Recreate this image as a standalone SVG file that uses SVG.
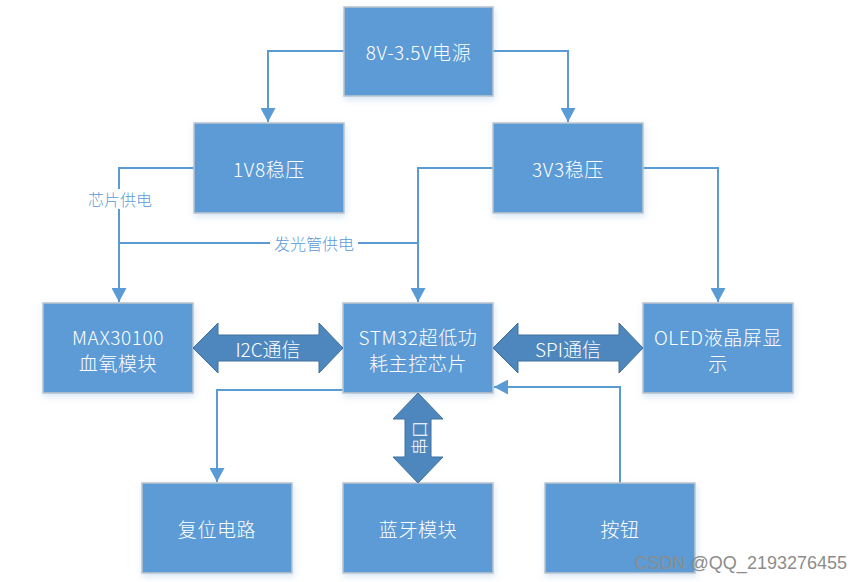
<svg xmlns="http://www.w3.org/2000/svg" width="863" height="582" viewBox="0 0 863 582">
<defs>
<style>
.box{fill:#5B9BD5;stroke:#BCC4CC;stroke-width:1.5;filter:url(#sh)}
.t{font-family:"Microsoft YaHei","Noto Sans CJK SC",sans-serif;font-size:19px;font-weight:300;letter-spacing:0.6px;fill:#FFFFFF;text-anchor:middle;dominant-baseline:central}
.ln{fill:none;stroke:#5B9BD5;stroke-width:2}
.lbl{font-family:"Microsoft YaHei","Noto Sans CJK SC",sans-serif;font-size:16px;font-weight:300;fill:#5B9BD5;text-anchor:middle;dominant-baseline:central}
.dbl{fill:#4E87BE;stroke:#41719C;stroke-width:1}
.dt{font-family:"Microsoft YaHei","Noto Sans CJK SC",sans-serif;font-size:19px;font-weight:300;fill:#FFFFFF;text-anchor:middle;dominant-baseline:central}
</style>
<filter id="sh" x="-10%" y="-10%" width="125%" height="130%">
<feDropShadow dx="1" dy="3" stdDeviation="3" flood-color="#5B9BD5" flood-opacity="0.25"/>
</filter>
<marker id="ah" markerUnits="userSpaceOnUse" markerWidth="15" markerHeight="15" refX="14" refY="7.5" orient="auto">
<path d="M0,0 L14,7.5 L0,15 Z" fill="#5B9BD5"/>
</marker>
</defs>
<rect width="863" height="582" fill="#FFFFFF"/>
<g id="connectors">
<path class="ln" d="M344,51 H268 V122" marker-end="url(#ah)"/>
<path class="ln" d="M493,51 H568 V122" marker-end="url(#ah)"/>
<path class="ln" d="M194,168 H119 V302" marker-end="url(#ah)"/>
<path class="ln" d="M119,243 H418"/>
<path class="ln" d="M493,168 H418 V302" marker-end="url(#ah)"/>
<path class="ln" d="M643,168 H718 V302" marker-end="url(#ah)"/>
<path class="ln" d="M343,390 H217 V482" marker-end="url(#ah)"/>
<path class="ln" d="M620,483 V387 H494" marker-end="url(#ah)"/>
<rect x="85" y="189" width="70" height="20" fill="#FFFFFF"/>
<text class="lbl" x="120" y="199">芯片供电</text>
<rect x="270" y="233" width="88" height="20" fill="#FFFFFF"/>
<text class="lbl" x="314" y="243">发光管供电</text>
</g>
<g id="power">
<rect class="box" x="344" y="7" width="149" height="89"/>
<text class="t" x="418.5" y="51">8V-3.5V电源</text>
</g>
<g id="reg1v8">
<rect class="box" x="194" y="123" width="150" height="90"/>
<text class="t" x="269" y="168">1V8稳压</text>
</g>
<g id="reg3v3">
<rect class="box" x="493" y="123" width="150" height="90"/>
<text class="t" x="568" y="168">3V3稳压</text>
</g>
<g id="max30100">
<rect class="box" x="43" y="303" width="150" height="90"/>
<text class="t" x="118" y="336">MAX30100</text>
<text class="t" x="118" y="362">血氧模块</text>
</g>
<g id="stm32">
<rect class="box" x="343" y="303" width="150" height="90"/>
<text class="t" x="418" y="336">STM32超低功</text>
<text class="t" x="418" y="362">耗主控芯片</text>
</g>
<g id="oled">
<rect class="box" x="643" y="303" width="150" height="90"/>
<text class="t" x="718" y="336">OLED液晶屏显</text>
<text class="t" x="718" y="362">示</text>
</g>
<g id="reset">
<rect class="box" x="142" y="483" width="150" height="90"/>
<text class="t" x="217" y="528">复位电路</text>
</g>
<g id="bluetooth">
<rect class="box" x="343" y="483" width="150" height="90"/>
<text class="t" x="418" y="528">蓝牙模块</text>
</g>
<g id="button">
<rect class="box" x="545" y="483" width="150" height="90"/>
<text class="t" x="620" y="528">按钮</text>
</g>
<g id="i2c">
<path class="dbl" d="M193,348 L218,323 L218,335 L319,335 L319,323 L343,348 L319,373 L319,361 L218,361 L218,373 Z"/>
<text class="dt" x="268" y="348">I2C通信</text>
</g>
<g id="spi">
<path class="dbl" d="M493,348 L518,323 L518,335 L619,335 L619,323 L643,348 L619,373 L619,361 L518,361 L518,373 Z"/>
<text class="dt" x="568" y="348">SPI通信</text>
</g>
<g id="uart">
<path class="dbl" d="M418,393 L443,419 L431,419 L431,457 L443,457 L418,483 L393,457 L405,457 L405,419 L393,419 Z"/>
<text class="dt" x="0" y="0" transform="translate(418,438) rotate(-90)" style="font-size:17px">串口</text>
</g>
<text x="847" y="569" text-anchor="end" style="font-family:'Liberation Sans',Arial,sans-serif;font-size:18px;fill:#8C8C8C">CSDN @QQ_2193276455</text>
</svg>
